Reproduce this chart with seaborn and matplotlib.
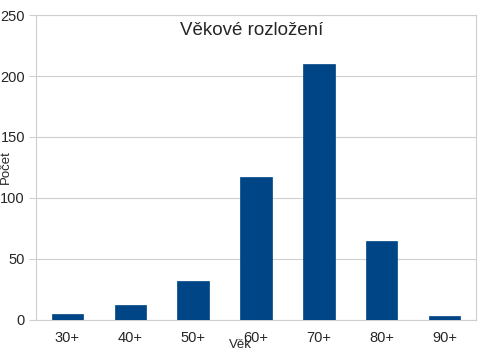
import matplotlib
matplotlib.use("Agg")
import matplotlib.pyplot as plt
import seaborn as sns
import pandas as pd
import numpy as np
from matplotlib.ticker import FixedLocator

categories = ["30+", "40+", "50+", "60+", "70+", "80+", "90+"]
counts = [5, 12, 32, 117, 210, 65, 3]

sns.set_style("white")
plt.rcParams['font.family'] = ['Liberation Sans', 'DejaVu Sans']

df = pd.DataFrame({"Věk": categories, "Počet": counts})

fig = plt.figure(figsize=(5, 3.53), dpi=100)
ax = fig.add_axes([0.072, 0.0935, 0.88, 0.864])
sns.barplot(data=df, x="Věk", y="Počet", color="#004586", width=0.5,
            saturation=1, ax=ax, zorder=3, edgecolor="#004586", linewidth=0.5)

ax.set_ylim(0, 250)
ax.set_xlim(-0.5, len(categories) - 0.5)
ax.set_yticks([0, 50, 100, 150, 200, 250])
ax.yaxis.grid(True, color="#cfcfcf", linewidth=0.8, zorder=0)
ax.set_axisbelow(True)
for s in ax.spines.values():
    s.set_color("#cfcfcf")
    s.set_linewidth(0.8)

ax.tick_params(axis="x", which="major", length=0, labelsize=10.5, pad=8)
ax.xaxis.set_minor_locator(FixedLocator(np.arange(-0.5, len(categories), 1.0)))
ax.tick_params(axis="x", which="minor", length=5, color="#cfcfcf", width=0.8)
ax.tick_params(axis="y", length=5, color="#cfcfcf", width=0.8, labelsize=10.5, pad=3, left=True)

ax.set_xlabel("Věk", fontsize=9.5)
ax.xaxis.set_label_coords(0.465, -0.062)
ax.set_ylabel("Počet", fontsize=9.5)
ax.yaxis.set_label_coords(-0.055, 0.5)
ax.text(0.49, 0.95, "Věkové rozložení", transform=ax.transAxes, ha="center",
        va="center", fontsize=13.5)

fig.savefig("out.png", dpi=100)
